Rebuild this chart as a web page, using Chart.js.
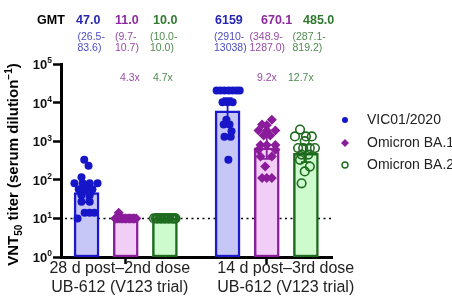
<!DOCTYPE html>
<html>
<head>
<meta charset="utf-8">
<script src="https://cdn.jsdelivr.net/npm/chart.js@4.4.1/dist/chart.umd.min.js"></script>
<style>
  html, body { margin: 0; padding: 0; background: #fff; }
  #wrap { width: 452px; height: 300px; }
</style>
</head>
<body>
<div id="wrap"><canvas id="c"></canvas></div>
<script>
// ---- data ----
const groups = ['28 d post\u20132nd dose', '14 d post\u20133rd dose'];
const groupSub = ['UB-612 (V123 trial)', 'UB-612 (V123 trial)'];
const variants = ['VIC01/2020', 'Omicron BA.1', 'Omicron BA.2'];
const barX = [0, 1, 2, 3.6, 4.6, 5.6];           // bar slots on the x axis
const groupTicks = [1, 4.6];
const gmt = [47.0, 11.0, 10.0, 6159, 670.1, 485.0];
const ciLow = [26.5, 9.7, 10.0, 2910, 348.9, 287.1];
const ciHigh = [83.6, 10.7, 10.0, 13038, 1287.0, 819.2];
const decimals = [1, 1, 1, 0, 1, 1];
const foldDrop = [null, 4.3, 4.7, null, 9.2, 12.7];
const yTicks = [1, 10, 100, 1000, 10000, 100000];
const lod = 10;

// individual titers and their horizontal jitter (in bar slots)
const vic1 = [330, 230, 117, 81, 81, 81, 81, 57, 57, 57, 40, 40, 27, 27, 14, 14, 14, 10];
const vic1Jit = [-0.06, 0.05, -0.13, -0.31, -0.1, 0.08, 0.28, -0.2, -0.03, 0.15, -0.13, 0.08, -0.13, 0.08, -0.05, 0.08, 0.2, -0.23];
const ba1a = [14, 10, 10, 10, 10, 10, 10, 10, 10, 10, 10, 10, 10, 10, 10, 10, 10, 10];
const ba1aJit = [-0.18, -0.27, -0.22, -0.17, -0.12, -0.07, -0.02, 0.03, 0.08, 0.13, 0.18, 0.23, 0.27, -0.25, -0.1, 0.0, 0.1, 0.2];
const ba2a = [10, 10, 10, 10, 10, 10, 10, 10, 10, 10, 10, 10, 10, 10, 10, 10, 10, 10];
const ba2aJit = [-0.28, -0.23, -0.18, -0.13, -0.08, -0.03, 0.02, 0.07, 0.12, 0.17, 0.22, 0.27, -0.2, -0.1, 0.0, 0.1, 0.2, 0.25];
const vic2 = [20480, 20480, 20480, 20480, 20480, 20480, 20480, 10240, 10240, 10240, 3600, 2700, 2700, 1800, 1300, 1300, 330];
const vic2Jit = [-0.28, -0.18, -0.08, 0.03, 0.13, 0.23, 0.31, -0.13, 0.0, 0.13, -0.03, -0.1, 0.05, 0.1, -0.08, 0.08, 0.02];
const ba1b = [3600, 2700, 2600, 1900, 1900, 1900, 1400, 1400, 800, 800, 800, 600, 600, 400, 400, 220, 112, 112, 112];
const ba1bJit = [0.13, -0.12, 0.0, -0.21, 0.0, 0.22, -0.08, 0.09, -0.16, 0.0, 0.22, -0.21, 0.22, -0.16, 0.13, -0.04, -0.12, 0.0, 0.13];
const ba2b = [2000, 1330, 1330, 1330, 1000, 665, 665, 665, 665, 450, 450, 330, 220, 165, 81];
const ba2bJit = [-0.15, -0.28, 0.0, 0.15, -0.03, -0.2, -0.07, 0.1, 0.23, 0.06, -0.11, -0.15, 0.1, -0.03, -0.11];

const BLUE = '#1616c8', PURPLE = '#8a1c9c', GREEN = '#1f6b1f';
const barFill = ['#c6c6f7', '#f2cdf5', '#cdfbcd', '#c6c6f7', '#f2cdf5', '#cdfbcd'];
const barLine = ['#1a1acc', '#8a1f9e', '#1d6b1d', '#1a1acc', '#8a1f9e', '#1d6b1d'];
const headCol = ['#2626b4', '#8e2aa0', '#2e7a2e', '#2626b4', '#8e2aa0', '#2e7a2e'];
const ciCol = ['#4c4cc2', '#9a4aa8', '#4f8a4f', '#4c4cc2', '#9a4aa8', '#4f8a4f'];

const FONT = "'Liberation Sans', Arial, sans-serif";

function pts(vals, jit, slot) {
  return vals.map((v, i) => ({ x: barX[slot] + jit[i], y: v }));
}

const annotations = {
  id: 'annotations',
  beforeDatasetsDraw(chart) {
    const { ctx, chartArea: a, scales: { y } } = chart;
    const py = y.getPixelForValue(lod);
    ctx.save();
    ctx.strokeStyle = '#000';
    ctx.lineWidth = 1.5;
    ctx.setLineDash([2, 3.5]);
    ctx.beginPath();
    ctx.moveTo(a.left + 4, py);
    ctx.lineTo(a.right, py);
    ctx.stroke();
    ctx.restore();
  },
  afterDatasetDraw(chart, args) {
    if (args.index !== 0) return;
    const { ctx, scales: { x, y } } = chart;
    ctx.save();
    barX.forEach((bx, i) => {
      const px = x.getPixelForValue(bx);
      const lo = y.getPixelForValue(ciLow[i]);
      const hi = y.getPixelForValue(ciHigh[i]);
      ctx.strokeStyle = barLine[i];
      ctx.lineWidth = 1.8;
      ctx.beginPath();
      ctx.moveTo(px, lo); ctx.lineTo(px, hi);
      ctx.moveTo(px - 5, lo); ctx.lineTo(px + 5, lo);
      ctx.moveTo(px - 5, hi); ctx.lineTo(px + 5, hi);
      ctx.stroke();
    });
    ctx.restore();
  },
  afterDraw(chart) {
    const { ctx, chartArea: a, scales: { x, y } } = chart;
    ctx.save();

    // header: GMT, CI, fold drop
    const headLeft = [76, 115, 153, 215, 261, 303];
    const ciLeft = [77.5, 115, 150, 214, 249.5, 292.5];
    const foldLeft = [0, 120, 153, 0, 257, 288];
    ctx.textBaseline = 'middle';
    ctx.textAlign = 'left';
    ctx.fillStyle = '#000';
    ctx.font = 'bold 12.5px ' + FONT;
    ctx.fillText('GMT', 37, 21);
    gmt.forEach((g, i) => {
      ctx.font = 'bold 12.5px ' + FONT;
      ctx.fillStyle = headCol[i];
      ctx.fillText(g.toFixed(decimals[i]), headLeft[i], 21);
      ctx.font = '10.5px ' + FONT;
      ctx.fillStyle = ciCol[i];
      ctx.fillText('(' + ciLow[i].toFixed(decimals[i]) + '-', ciLeft[i], 37);
      ctx.fillText(ciHigh[i].toFixed(decimals[i]) + ')', ciLeft[i], 48);
      if (foldDrop[i] !== null) {
        ctx.fillText(foldDrop[i].toFixed(1) + 'x', foldLeft[i], 78);
      }
    });

    // y tick labels 10^n
    ctx.fillStyle = '#111';
    yTicks.forEach(t => {
      const py = y.getPixelForValue(t);
      const e = String(Math.round(Math.log10(t)));
      ctx.font = 'bold 8.5px ' + FONT;
      const ew = ctx.measureText(e).width;
      const right = a.left - 9;
      ctx.textAlign = 'right';
      ctx.fillText(e, right, py - 3);
      ctx.font = 'bold 13px ' + FONT;
      ctx.fillText('10', right - ew, py + 1.5);
    });

    // y title with sub/superscript
    const parts = [
      ['VNT', 15, 0], ['50', 10, 4], [' titer (serum dilution', 15, 0], ['\u22121', 10, -6], [')', 15, 0]
    ];
    let total = 0;
    parts.forEach(p => { ctx.font = 'bold ' + p[1] + 'px ' + FONT; total += ctx.measureText(p[0]).width; });
    ctx.translate(18, (a.top + a.bottom) / 2 + 4);
    ctx.rotate(-Math.PI / 2);
    ctx.textAlign = 'left';
    ctx.textBaseline = 'alphabetic';
    ctx.fillStyle = '#000';
    let cx = -total / 2;
    parts.forEach(p => {
      ctx.font = 'bold ' + p[1] + 'px ' + FONT;
      ctx.fillText(p[0], cx, p[2]);
      cx += ctx.measureText(p[0]).width;
    });
    ctx.setTransform(1, 0, 0, 1, 0, 0);

    // x group labels
    const labelShift = [-6, 19];
    ctx.textAlign = 'center';
    ctx.textBaseline = 'middle';
    ctx.fillStyle = '#222';
    ctx.font = '16px ' + FONT;
    groupTicks.forEach((t, i) => {
      const px = x.getPixelForValue(t) + labelShift[i];
      ctx.fillText(groups[i], px, 269);
      ctx.fillText(groupSub[i], px, 288);
    });

    // legend
    const ly = [120, 143, 165];
    chart.data.datasets.slice(1).forEach((ds, i) => {
      const mx = 345, my = ly[i];
      ctx.beginPath();
      if (ds.pointStyle === 'rectRot') {
        ctx.moveTo(mx, my - 4); ctx.lineTo(mx + 4, my); ctx.lineTo(mx, my + 4); ctx.lineTo(mx - 4, my);
        ctx.closePath();
      } else {
        ctx.arc(mx, my, 3, 0, Math.PI * 2);
      }
      if (ds.backgroundColor !== 'transparent') {
        ctx.fillStyle = ds.backgroundColor; ctx.fill();
      } else {
        ctx.strokeStyle = ds.borderColor; ctx.lineWidth = 1.4; ctx.stroke();
      }
      ctx.fillStyle = '#222';
      ctx.font = '14px ' + FONT;
      ctx.textAlign = 'left';
      ctx.fillText(ds.label, 367, my);
    });
    ctx.restore();
  }
};

new Chart(document.getElementById('c'), {
  type: 'bar',
  data: {
    datasets: [
      {
        type: 'bar',
        label: 'GMT',
        data: gmt.map((g, i) => ({ x: barX[i], y: g })),
        backgroundColor: barFill,
        borderColor: barLine,
        borderWidth: 2.5,
        borderSkipped: false,
        barThickness: 25,
        order: 2
      },
      {
        type: 'scatter', label: variants[0],
        data: pts(vic1, vic1Jit, 0).concat(pts(vic2, vic2Jit, 3)),
        pointStyle: 'circle', pointRadius: 4, backgroundColor: BLUE, borderColor: BLUE, borderWidth: 0, order: 1
      },
      {
        type: 'scatter', label: variants[1],
        data: pts(ba1a, ba1aJit, 1).concat(pts(ba1b, ba1bJit, 4)),
        pointStyle: 'rectRot', pointRadius: 5, backgroundColor: PURPLE, borderColor: PURPLE, borderWidth: 0, order: 1
      },
      {
        type: 'scatter', label: variants[2],
        data: pts(ba2a, ba2aJit, 2).concat(pts(ba2b, ba2bJit, 5)),
        pointStyle: 'circle', pointRadius: 4.3, backgroundColor: 'transparent', borderColor: GREEN, borderWidth: 1.6, order: 1
      }
    ]
  },
  options: {
    responsive: true,
    maintainAspectRatio: false,
    animation: false,
    events: [],
    layout: { padding: { top: 64, right: 120, left: 0, bottom: 0 } },
    plugins: { legend: { display: false }, tooltip: { enabled: false } },
    scales: {
      x: {
        type: 'linear',
        offset: false,
        min: -0.653,
        max: 6.266,
        afterBuildTicks: s => { s.ticks = groupTicks.map(v => ({ value: v })); },
        afterFit: s => { s.height = 43; },
        ticks: { callback: () => '', padding: 0 },
        grid: { offset: false, drawOnChartArea: false, drawTicks: true, tickLength: 7, tickWidth: 2.5, color: '#000' },
        border: { color: '#000', width: 3 }
      },
      y: {
        type: 'logarithmic',
        min: 1,
        max: 100000,
        afterBuildTicks: s => { s.ticks = yTicks.map(v => ({ value: v })); },
        afterFit: s => { s.width = 61; },
        ticks: { callback: () => '', padding: 0 },
        grid: { drawOnChartArea: false, drawTicks: true, tickLength: 8, tickWidth: 2.5, color: '#000' },
        border: { color: '#000', width: 3 }
      }
    }
  },
  plugins: [annotations]
});
</script>
</body>
</html>
